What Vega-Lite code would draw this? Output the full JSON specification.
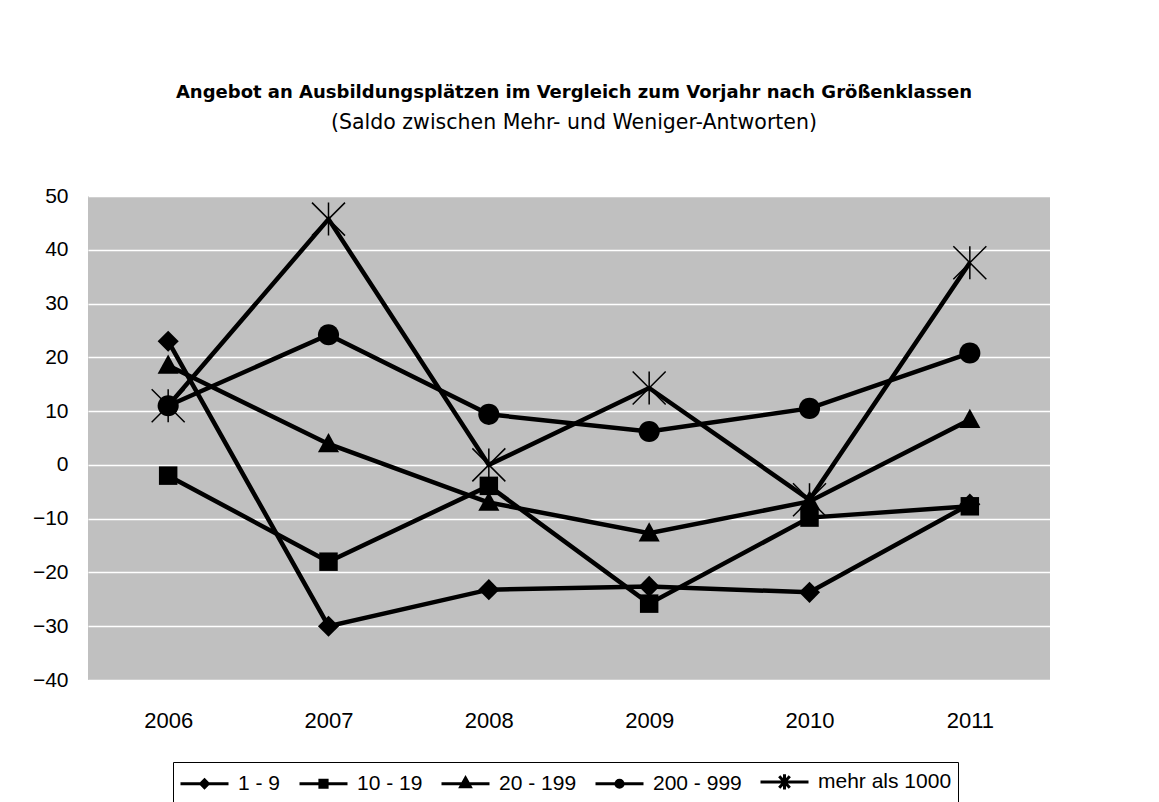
{
  "$schema": "https://vega.github.io/schema/vega-lite/v6.json",
  "autosize": {"type": "none"},
  "padding": {"left": 88, "top": 196, "right": 109, "bottom": 122},
  "width": 962,
  "height": 484,
  "background": "white",
  "title": {
    "text": "Angebot an Ausbildungsplätzen im Vergleich zum Vorjahr nach Größenklassen",
    "subtitle": "(Saldo zwischen Mehr- und Weniger-Antworten)",
    "anchor": "middle",
    "dx": 5,
    "font": "DejaVu Sans",
    "fontSize": 18,
    "fontWeight": "bold",
    "color": "black",
    "subtitleFont": "DejaVu Sans",
    "subtitleFontSize": 20.5,
    "subtitleColor": "black",
    "subtitlePadding": 11,
    "offset": 52
  },
  "data": {
    "values": [
      {"year": "2006", "series": "1 - 9", "value": 23},
      {"year": "2007", "series": "1 - 9", "value": -30},
      {"year": "2008", "series": "1 - 9", "value": -23.2},
      {"year": "2009", "series": "1 - 9", "value": -22.6},
      {"year": "2010", "series": "1 - 9", "value": -23.7},
      {"year": "2011", "series": "1 - 9", "value": -7.3},
      {"year": "2006", "series": "10 - 19", "value": -2},
      {"year": "2007", "series": "10 - 19", "value": -18},
      {"year": "2008", "series": "10 - 19", "value": -3.9},
      {"year": "2009", "series": "10 - 19", "value": -25.8},
      {"year": "2010", "series": "10 - 19", "value": -9.8},
      {"year": "2011", "series": "10 - 19", "value": -7.7},
      {"year": "2006", "series": "20 - 199", "value": 18.5},
      {"year": "2007", "series": "20 - 199", "value": 3.9},
      {"year": "2008", "series": "20 - 199", "value": -7},
      {"year": "2009", "series": "20 - 199", "value": -12.7},
      {"year": "2010", "series": "20 - 199", "value": -6.8},
      {"year": "2011", "series": "20 - 199", "value": 8.4},
      {"year": "2006", "series": "200 - 999", "value": 11},
      {"year": "2007", "series": "200 - 999", "value": 24.2},
      {"year": "2008", "series": "200 - 999", "value": 9.4},
      {"year": "2009", "series": "200 - 999", "value": 6.2},
      {"year": "2010", "series": "200 - 999", "value": 10.5},
      {"year": "2011", "series": "200 - 999", "value": 20.8},
      {"year": "2006", "series": "mehr als 1000", "value": 11},
      {"year": "2007", "series": "mehr als 1000", "value": 45.7},
      {"year": "2008", "series": "mehr als 1000", "value": 0},
      {"year": "2009", "series": "mehr als 1000", "value": 14.3},
      {"year": "2010", "series": "mehr als 1000", "value": -6.5},
      {"year": "2011", "series": "mehr als 1000", "value": 37.6}
    ]
  },
  "encoding": {
    "x": {
      "field": "year",
      "type": "ordinal",
      "scale": {"type": "point", "padding": 0.5},
      "axis": {
        "title": null,
        "labelAngle": 0,
        "domain": false,
        "ticks": false,
        "grid": false,
        "labelPadding": 30,
        "labelFont": "Liberation Sans",
        "labelFontSize": 22,
        "labelColor": "black"
      }
    },
    "y": {
      "field": "value",
      "type": "quantitative",
      "scale": {"domain": [-40, 50], "nice": false, "zero": false},
      "axis": {
        "title": null,
        "values": [-40, -30, -20, -10, 0, 10, 20, 30, 40, 50],
        "domain": false,
        "ticks": false,
        "grid": true,
        "gridColor": "white",
        "gridWidth": 1.5,
        "gridOpacity": 1,
        "labelPadding": 20,
        "labelFont": "Liberation Sans",
        "labelFontSize": 21,
        "labelColor": "black"
      }
    }
  },
  "layer": [
    {
      "mark": {"type": "line", "strokeWidth": 4.5, "strokeJoin": "miter"},
      "encoding": {
        "color": {
          "field": "series",
          "type": "nominal",
          "scale": {
            "domain": ["1 - 9", "10 - 19", "20 - 199", "200 - 999", "mehr als 1000"],
            "range": ["black", "black", "black", "black", "black"]
          },
          "legend": {
            "title": null,
            "orient": "none",
            "legendX": 85,
            "legendY": 566,
            "direction": "horizontal",
            "columns": 5,
            "padding": 6,
            "strokeColor": "black",
            "fillColor": "white",
            "symbolSize": 576,
            "symbolStrokeWidth": 3,
            "symbolStrokeColor": "black",
            "symbolFillColor": "black",
            "labelFont": "Liberation Sans",
            "labelFontSize": 21,
            "labelColor": "black",
            "labelOffset": 32,
            "columnPadding": 12,
            "encode": {
              "symbols": {
                "update": {
                  "shape": {"signal": "datum.value === '1 - 9' ? 'M-1,0H3M1,-0.32L1.32,0L1,0.32L0.68,0Z' : datum.value === '10 - 19' ? 'M-1,0H3M0.7,-0.3H1.3V0.3H0.7Z' : datum.value === '20 - 199' ? 'M-1,0H3M1,-0.48L1.4,0.24H0.6Z' : datum.value === '200 - 999' ? 'M-1,0H3M0.7,0A0.3,0.3,0,1,0,1.3,0A0.3,0.3,0,1,0,0.7,0Z' : 'M-1,0H3M0.56,-0.48L1.44,0.48M0.56,0.48L1.44,-0.48M1,-0.64V0.64'"},
                  "fill": {"value": "black"},
                  "stroke": {"value": "black"},
                  "strokeWidth": {"value": 3}
                }
              }
            }
          }
        }
      }
    },
    {
      "transform": [{"filter": "datum.series === '1 - 9'"}],
      "mark": {"type": "point", "filled": true, "opacity": 1, "color": "black", "size": 1089, "shape": "M0,-0.64L0.64,0L0,0.64L-0.64,0Z"}
    },
    {
      "transform": [{"filter": "datum.series === '10 - 19'"}],
      "mark": {"type": "point", "filled": true, "opacity": 1, "color": "black", "size": 1089, "shape": "M-0.56,-0.56H0.56V0.56H-0.56Z"}
    },
    {
      "transform": [{"filter": "datum.series === '20 - 199'"}],
      "mark": {"type": "point", "filled": true, "opacity": 1, "color": "black", "size": 1089, "shape": "M0,-0.66L0.64,0.5H-0.64Z"}
    },
    {
      "transform": [{"filter": "datum.series === '200 - 999'"}],
      "mark": {"type": "point", "filled": true, "opacity": 1, "color": "black", "size": 1089, "shape": "M-0.64,0A0.64,0.64,0,1,0,0.64,0A0.64,0.64,0,1,0,-0.64,0Z"}
    },
    {
      "transform": [{"filter": "datum.series === 'mehr als 1000'"}],
      "mark": {"type": "point", "filled": false, "opacity": 1, "color": "black", "strokeWidth": 1.5, "size": 1089, "shape": "M-1,-1L1,1M-1,1L1,-1M0,-1V1"}
    }
  ],
  "config": {
    "view": {"fill": "#c0c0c0", "stroke": null}
  }
}
